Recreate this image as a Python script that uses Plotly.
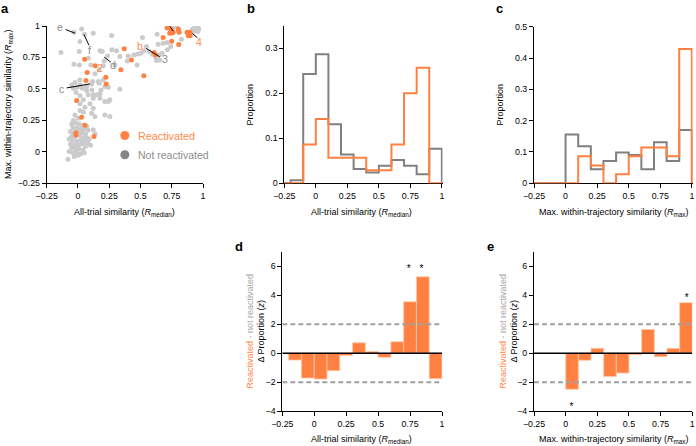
import plotly.graph_objects as go

W, H = 696, 446
ORANGE = "#FF8040"
ORANGE_TXT = "#FF8A4C"
GRAY_PT = "#CBCBCB"
GRAY_LINE = "#808080"
GRAY_TXT = "#8C8C8C"
FONT = "Liberation Sans, Arial, Helvetica, sans-serif"

# ---------------- data ----------------
# panel a: reactivated (orange) cells
orange_x = [0.713, 0.745, 0.734, 0.761, 0.803, 0.809, 0.681, 0.750, 0.806, 0.872,
            0.883, 0.895, 0.898, 0.609, 0.620, 0.370, 0.428, 0.527, 0.343, 0.223,
            0.226, 0.138, 0.053, 0.074, 0.064, -0.011, 0.029, 0.056, -0.016, -0.016,
            0.128, 0.745, 0.755, 0.805, 0.880]
orange_y = [0.984, 0.975, 0.943, 0.951, 0.977, 0.951, 0.908, 0.879, 0.853, 0.951,
            0.922, 0.951, 0.922, 0.790, 0.770, 0.818, 0.730, 0.603, 0.651, 0.592,
            0.539, 0.683, 0.736, 0.629, 0.566, 0.406, 0.274, 0.210, 0.151, 0.133,
            0.120, 0.960, 0.945, 0.965, 0.940]

# panel a: not reactivated (gray) cells
gray_x = [
    -0.136, -0.032, 0.029, 0.053, 0.122, 0.016, 0.011, 0.176, 0.194, 0.269,
    0.237, 0.271, 0.309, 0.335, 0.210, 0.295, 0.202, 0.168, 0.136, 0.082,
    0.104, -0.032, 0.011, 0.016, -0.024, -0.050, -0.005, 0.035, -0.016, 0.069,
    0.112, 0.149, 0.184, 0.242, 0.335, 0.162, 0.202, 0.117,
    0.394, 0.402, 0.447, 0.476, 0.503, 0.527, 0.548, 0.516, 0.569, 0.596,
    0.622, 0.649, 0.673, 0.641, 0.633, 0.681, 0.713, 0.715, 0.742, 0.654,
    0.628, 0.473,
    0.827, 0.934, 0.947, 0.960, 0.941, 0.920, 0.952, 0.928, 0.965, 0.915,
    0.936, 0.957, 0.945, 0.761, 0.787,
    -0.037, 0.016, 0.069, 0.109, 0.170, 0.215, 0.122, 0.082, 0.176, 0.016,
    0.122, 0.176, 0.043, 0.215, 0.242, 0.255, 0.096, 0.016, 0.056, 0.122,
    0.016, 0.043, 0.109, 0.136, 0.215, 0.255, -0.024, 0.003, -0.037, 0.122,
    0.136,
    -0.05, -0.02, 0.01, 0.04, 0.07, -0.04, -0.01, 0.02, 0.05, 0.08,
    -0.06, -0.03, 0.00, 0.03, 0.06, -0.05, -0.02, 0.01, 0.04, 0.07,
    -0.04, -0.01, 0.02, 0.05, 0.08, -0.06, -0.03, 0.00, 0.03, 0.06,
    -0.05, -0.02, 0.01, 0.04, -0.07, -0.04, -0.01, 0.02, 0.05, -0.03,
    0.00, -0.08, 0.09, 0.10, -0.07]
gray_y = [
    0.789, 0.951, 0.977, 0.935, 0.943, 0.876, 0.797, 0.802, 0.797, 0.924,
    0.762, 0.810, 0.802, 0.757, 0.722, 0.690, 0.683, 0.651, 0.619, 0.744,
    0.690, 0.696, 0.690, 0.571, 0.550, 0.531, 0.513, 0.505, 0.470, 0.486,
    0.491, 0.452, 0.491, 0.513, 0.497, 0.558, 0.571, 0.558,
    0.722, 0.762, 0.770, 0.778, 0.784, 0.802, 0.837, 0.908, 0.797, 0.776,
    0.752, 0.770, 0.784, 0.855, 0.935, 0.863, 0.869, 0.810, 0.837, 0.730,
    0.725, 0.690,
    0.895, 0.977, 0.983, 0.988, 0.964, 0.956, 0.969, 0.969, 0.975, 0.975,
    0.991, 0.956, 0.972, 0.985, 0.996,
    0.505, 0.531, 0.518, 0.539, 0.545, 0.518, 0.452, 0.452, 0.460, 0.444,
    0.425, 0.425, 0.412, 0.398, 0.398, 0.412, 0.380, 0.380, 0.353, 0.345,
    0.327, 0.313, 0.305, 0.279, 0.292, 0.279, 0.292, 0.266, 0.247, 0.173,
    0.141,
    0.22, 0.23, 0.22, 0.21, 0.20, 0.19, 0.19, 0.18, 0.18, 0.17,
    0.16, 0.15, 0.16, 0.15, 0.14, 0.12, 0.12, 0.13, 0.11, 0.11,
    0.09, 0.08, 0.09, 0.08, 0.07, 0.06, 0.05, 0.05, 0.06, 0.04,
    0.03, 0.02, 0.02, 0.01, 0.00, -0.01, -0.01, -0.02, -0.01, -0.04,
    -0.03, -0.06, 0.10, 0.05, 0.10]

# panel b: histograms of R_median (bin edges and proportions)
b_edges = [-0.3, -0.2, -0.1, 0.0, 0.1, 0.2, 0.3, 0.4, 0.5, 0.6, 0.7, 0.8, 0.9, 1.0]
b_gray = [0, 0.007, 0.243, 0.287, 0.131, 0.064, 0.032, 0.024, 0.039, 0.052, 0.039, 0.020, 0.077]
b_orange = [0, 0, 0.086, 0.143, 0.057, 0.057, 0.057, 0.029, 0.029, 0.086, 0.200, 0.257, 0]

# panel c: histograms of R_max
c_edges = [-0.3, -0.2, -0.1, 0.0, 0.1, 0.2, 0.3, 0.4, 0.5, 0.6, 0.7, 0.8, 0.9, 1.0]
c_gray = [0, 0, 0, 0.156, 0.118, 0.045, 0.071, 0.098, 0.090, 0.045, 0.131, 0.071, 0.170]
c_orange = [0, 0, 0, 0, 0.086, 0.057, 0, 0.029, 0.086, 0.114, 0.114, 0.086, 0.429]

# panel d: z-scored difference per R_median bin
d_centers = [-0.15, -0.05, 0.05, 0.15, 0.25, 0.35, 0.45, 0.55, 0.65, 0.75, 0.85, 0.95]
d_z = [-0.47, -1.71, -1.78, -1.20, -0.15, 0.72, 0.13, -0.28, 0.79, 3.55, 5.27, -1.75]
d_star_x = [0.74, 0.84]
d_star_y = [5.75, 5.75]

# panel e: z-scored difference per R_max bin
e_centers = [0.05, 0.15, 0.25, 0.35, 0.45, 0.55, 0.65, 0.75, 0.85, 0.95]
e_z = [-2.48, -0.49, 0.34, -1.61, -1.36, -0.10, 1.64, -0.24, 0.34, 3.49]
e_star_x = [0.045, 0.955]
e_star_y = [-3.75, 3.8]

sim_ticks = [-0.25, 0, 0.25, 0.5, 0.75, 1]
sim_labels = ["\u22120.25", "0", "0.25", "0.5", "0.75", "1"]
z_ticks = [-4, -2, 0, 2, 4, 6]
z_labels = ["\u22124", "\u22122", "0", "2", "4", "6"]

# ---------------- layout helpers ----------------
def dx(a, b):
    return [a / W, b / W]

def dy(top, bottom):
    return [1 - bottom / H, 1 - top / H]

def px(x):
    return x / W

def py(y):
    return 1 - y / H

axis_common = dict(showline=True, linecolor="black", linewidth=1, ticks="outside",
                   ticklen=4, tickwidth=1, tickcolor="black", showgrid=False,
                   zeroline=False, automargin=False,
                   tickfont=dict(size=8.8, family=FONT, color="black"),
                   fixedrange=True)

fig = go.Figure()

# panel a scatter
fig.add_trace(go.Scatter(x=gray_x, y=gray_y, mode="markers", xaxis="x", yaxis="y",
                         marker=dict(size=5, color=GRAY_PT), hoverinfo="skip"))
fig.add_trace(go.Scatter(x=orange_x, y=orange_y, mode="markers", xaxis="x", yaxis="y",
                         marker=dict(size=5, color=ORANGE), hoverinfo="skip"))
# legend glyphs of panel a
fig.add_trace(go.Scatter(x=[0.375, 0.375], y=[0.128, -0.025], mode="markers", xaxis="x", yaxis="y",
                         marker=dict(size=9, color=[ORANGE, "#858585"]), hoverinfo="skip"))

# panel b histograms
fig.add_trace(go.Scatter(x=b_edges, y=b_gray + [0], mode="lines", line_shape="hv",
                         xaxis="x2", yaxis="y2", line=dict(color=GRAY_LINE, width=2), hoverinfo="skip"))
fig.add_trace(go.Scatter(x=b_edges, y=b_orange + [0], mode="lines", line_shape="hv",
                         xaxis="x2", yaxis="y2", line=dict(color=ORANGE, width=2), hoverinfo="skip"))
# panel c histograms
fig.add_trace(go.Scatter(x=c_edges, y=c_gray + [0], mode="lines", line_shape="hv",
                         xaxis="x3", yaxis="y3", line=dict(color=GRAY_LINE, width=2), hoverinfo="skip"))
fig.add_trace(go.Scatter(x=c_edges, y=c_orange + [0], mode="lines", line_shape="hv",
                         xaxis="x3", yaxis="y3", line=dict(color=ORANGE, width=2), hoverinfo="skip"))

# panel d / e bars
fig.add_trace(go.Bar(x=d_centers, y=d_z, width=0.1, xaxis="x4", yaxis="y4", hoverinfo="skip",
                     marker=dict(color=ORANGE, line=dict(color="#FFC9A8", width=0.8))))
fig.add_trace(go.Bar(x=e_centers, y=e_z, width=0.1, xaxis="x5", yaxis="y5", hoverinfo="skip",
                     marker=dict(color=ORANGE, line=dict(color="#FFC9A8", width=0.8))))
# stars
fig.add_trace(go.Scatter(x=d_star_x, y=d_star_y, mode="text", text=["*", "*"], xaxis="x4", yaxis="y4",
                         textfont=dict(size=10, family=FONT, color="black"), cliponaxis=False,
                         hoverinfo="skip"))
fig.add_trace(go.Scatter(x=e_star_x, y=e_star_y, mode="text", text=["*", "*"], xaxis="x5", yaxis="y5",
                         textfont=dict(size=10, family=FONT, color="black"), cliponaxis=False,
                         hoverinfo="skip"))

layout = dict(
    template="none",
    width=W, height=H, margin=dict(l=0, r=0, t=0, b=0, pad=0),
    paper_bgcolor="white", plot_bgcolor="white", showlegend=False,
    bargap=0, barmode="overlay",
    font=dict(family=FONT, size=9, color="black"),
    xaxis=dict(domain=dx(46.7, 203), range=[-0.25, 1], tickvals=sim_ticks, ticktext=sim_labels,
               anchor="y", **axis_common),
    yaxis=dict(domain=dy(26, 183), range=[-0.25, 1], tickvals=sim_ticks, ticktext=sim_labels,
               anchor="x", **axis_common),
    xaxis2=dict(domain=dx(284.3, 442.5), range=[-0.25, 1.005], tickvals=sim_ticks, ticktext=sim_labels,
                anchor="y2", layer="below traces", **axis_common),
    yaxis2=dict(domain=dy(25.8, 183.3), range=[0, 0.35], tickvals=[0, 0.1, 0.2, 0.3],
                ticktext=["0", "0.1", "0.2", "0.3"], anchor="x2", layer="below traces", **axis_common),
    xaxis3=dict(domain=dx(534, 692.5), range=[-0.25, 1.005], tickvals=sim_ticks, ticktext=sim_labels,
                anchor="y3", layer="below traces", **axis_common),
    yaxis3=dict(domain=dy(26.7, 183.3), range=[0, 0.5], tickvals=[0, 0.1, 0.2, 0.3, 0.4, 0.5],
                ticktext=["0", "0.1", "0.2", "0.3", "0.4", "0.5"], anchor="x3", layer="below traces",
                **axis_common),
    xaxis4=dict(domain=dx(282.3, 442), range=[-0.25, 1], tickvals=sim_ticks, ticktext=sim_labels,
                anchor="y4", **axis_common),
    yaxis4=dict(domain=dy(251.7, 411.3), range=[-4, 7], tickvals=z_ticks, ticktext=z_labels,
                anchor="x4", **axis_common),
    xaxis5=dict(domain=dx(534, 692.3), range=[-0.25, 1], tickvals=sim_ticks, ticktext=sim_labels,
                anchor="y5", **axis_common),
    yaxis5=dict(domain=dy(251.7, 411.3), range=[-4, 7], tickvals=z_ticks, ticktext=z_labels,
                anchor="x5", **axis_common),
)
fig.update_layout(**layout)

shapes = []
for ax in ["4", "5"]:
    for yv in [2, -2]:
        shapes.append(dict(type="line", xref="x" + ax, yref="y" + ax, x0=-0.25, x1=1, y0=yv, y1=yv,
                           line=dict(color="#A0A0A0", width=2, dash="5px,3px"), layer="above"))
    shapes.append(dict(type="line", xref="x" + ax, yref="y" + ax, x0=-0.25, x1=1, y0=0, y1=0,
                       line=dict(color="black", width=1.5), layer="above"))

# pointer lines in panel a
pointer_lines = [
    (0.707, 1.038, 0.761, 0.959),   # a
    (0.915, 0.940, 0.955, 0.906),   # 4
    (0.545, 0.822, 0.655, 0.754),   # b - 3
    (-0.098, 0.972, -0.024, 0.943), # e
    (0.048, 0.932, 0.088, 0.847),   # f
    (0.210, 0.752, 0.263, 0.712),   # d
    (-0.090, 0.507, 0.096, 0.539),  # c
]
for x0, y0, x1, y1 in pointer_lines:
    shapes.append(dict(type="line", xref="x", yref="y", x0=x0, y0=y0, x1=x1, y1=y1,
                       line=dict(color="black", width=1)))
fig.update_layout(shapes=shapes)

ann = []
def add_text(text, x, y, xref, yref, size, color="black", angle=0, xanchor="center", bold=False):
    if bold:
        text = "<b>" + text + "</b>"
    ann.append(dict(text=text, x=x, y=y, xref=xref, yref=yref, showarrow=False,
                    font=dict(size=size, family=FONT, color=color), textangle=angle,
                    xanchor=xanchor, yanchor="middle"))

# point labels in panel a
for t, x, y, c in [("a", 0.681, 1.065, ORANGE_TXT), ("4", 0.968, 0.874, ORANGE_TXT),
                   ("b", 0.500, 0.837, ORANGE_TXT), ("3", 0.700, 0.738, GRAY_TXT),
                   ("2", 0.176, 0.667, ORANGE_TXT), ("d", 0.282, 0.688, GRAY_TXT),
                   ("e", -0.144, 0.991, GRAY_TXT), ("f", 0.096, 0.807, GRAY_TXT),
                   ("c", -0.130, 0.502, GRAY_TXT)]:
    add_text(t, x, y, "x", "y", 10.5, c)
add_text("Reactivated", 0.462, 0.128, "x", "y", 10.8, ORANGE_TXT, xanchor="left")
add_text("Not reactivated", 0.462, -0.025, "x", "y", 10.5, GRAY_TXT, xanchor="left")

# panel letters
for t, x, y in [("a", 5, 8), ("b", 250.7, 8.5), ("c", 499.3, 8.5), ("d", 239.3, 246), ("e", 490.7, 246)]:
    add_text(t, px(x), py(y), "paper", "paper", 13, bold=True)

R_MED = "All-trial similarity (<i>R</i><sub>median</sub>)"
R_MAX = "Max. within-trajectory similarity (<i>R</i><sub>max</sub>)"
# x titles
add_text(R_MED, px(124.8), py(212), "paper", "paper", 9)
add_text(R_MED, px(362), py(212), "paper", "paper", 9)
add_text(R_MAX, px(613), py(212), "paper", "paper", 9)
add_text(R_MED, px(362), py(439), "paper", "paper", 9)
add_text(R_MAX, px(613), py(439), "paper", "paper", 9)
# y titles
add_text(R_MAX, px(8.5), py(104.5), "paper", "paper", 9, angle=-90)
add_text("Proportion", px(250), py(104.6), "paper", "paper", 9, angle=-90)
add_text("Proportion", px(500), py(104.6), "paper", "paper", 9, angle=-90)
DZ = ("<span style='color:%s'>Reactivated</span><span style='color:#A8A8A8'> - not reactivated</span>"
      "<br>\u0394 Proportion (<i>z</i>)" % ORANGE_TXT)
add_text(DZ, px(255), py(331.5), "paper", "paper", 9, angle=-90)
add_text(DZ, px(508), py(331.5), "paper", "paper", 9, angle=-90)

fig.update_layout(annotations=ann)
fig.write_html("out.html", config={"displayModeBar": False, "staticPlot": True},
               post_script="document.body.style.margin='0';document.body.style.overflow='hidden';")
